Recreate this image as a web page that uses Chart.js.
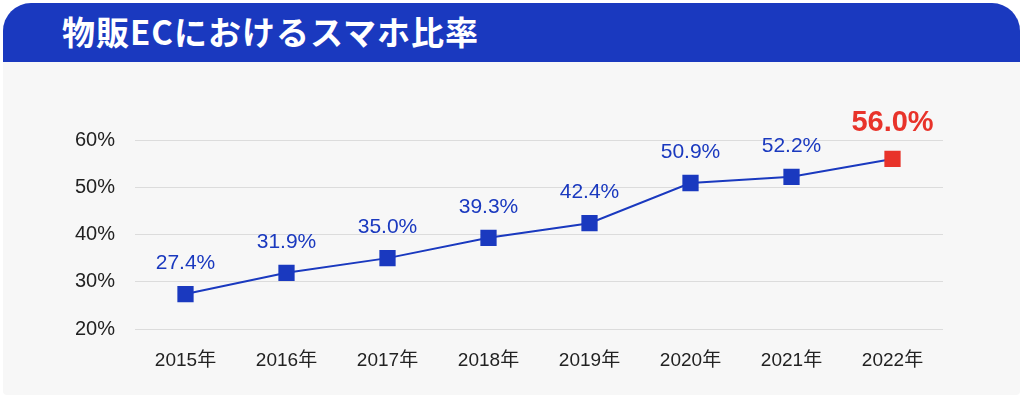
<!DOCTYPE html>
<html lang="ja">
<head>
<meta charset="utf-8">
<script src="https://cdn.jsdelivr.net/npm/chart.js@4.4.1/dist/chart.umd.min.js"></script>
<style>
  html, body { margin: 0; padding: 0; background: #fff; width: 1024px; height: 399px; overflow: hidden; }
  .card { position: absolute; left: 3px; top: 3px; width: 1017px; height: 392px; background: #f7f7f7; border-radius: 28px 28px 4px 4px; overflow: hidden; }
  .head { height: 59px; background: #1a39bf; color: #fff; font-family: "Noto Sans CJK JP", sans-serif; font-weight: 700; font-size: 33px; line-height: 56px; padding-left: 59px; letter-spacing: 1px; }
  .body { position: relative; width: 1017px; height: 333px; }
</style>
</head>
<body>
<div class="card">
  <div class="head">物販ECにおけるスマホ比率</div>
  <div class="body"><canvas id="chart"></canvas></div>
</div>
<script>
// データ
const years = ["2015年", "2016年", "2017年", "2018年", "2019年", "2020年", "2021年", "2022年"]
const shares = [27.4, 31.9, 35.0, 39.3, 42.4, 50.9, 52.2, 56.0]
const yTicks = [20, 30, 40, 50, 60]

const BLUE = "#1a39bf"
const RED = "#e8332a"
const FONT = '"Liberation Sans", "Noto Sans CJK JP", sans-serif'

const lastIdx = shares.length - 1
const pointColors = shares.map((v, i) => (i === lastIdx ? RED : BLUE))

// ラベル描画用のプラグイン
const valueLabels = {
  id: "valueLabels",
  afterDatasetsDraw(chart) {
    const ctx = chart.ctx
    const meta = chart.getDatasetMeta(0)
    ctx.save()
    ctx.textAlign = "center"
    ctx.textBaseline = "middle"
    meta.data.forEach((pt, i) => {
      const txt = shares[i].toFixed(1) + "%"
      if (i === lastIdx) {
        ctx.fillStyle = RED
        ctx.font = "bold 29px " + FONT
        ctx.fillText(txt, pt.x, pt.y - 36)
      } else {
        ctx.fillStyle = BLUE
        ctx.font = "21px " + FONT
        ctx.fillText(txt, pt.x, pt.y - 31)
      }
    })
    ctx.restore()
  },
}

const ctx = document.getElementById("chart").getContext("2d")
new Chart(ctx, {
  type: "line",
  data: {
    labels: years,
    datasets: [
      {
        data: shares,
        borderColor: BLUE,
        borderWidth: 2,
        pointStyle: "rect",
        pointRadius: 11.5,
        pointHoverRadius: 11.5,
        pointBorderWidth: 0,
        pointBackgroundColor: pointColors,
        pointBorderColor: pointColors,
        tension: 0,
      },
    ],
  },
  options: {
    responsive: true,
    maintainAspectRatio: false,
    animation: false,
    layout: { padding: { top: 78, right: 77, bottom: 0, left: 0 } },
    plugins: {
      legend: { display: false },
      tooltip: { enabled: false },
    },
    scales: {
      x: {
        offset: true,
        grid: { display: false },
        border: { display: false },
        ticks: { color: "#222", font: { family: FONT, size: 19 }, padding: 12 },
        afterFit: (scale) => { scale.height = 66 },
      },
      y: {
        min: 20,
        max: 60,
        afterBuildTicks: (scale) => { scale.ticks = yTicks.map((v) => ({ value: v })) },
        grid: { color: "#dcdcdc", drawTicks: false },
        border: { display: false },
        ticks: {
          color: "#222",
          font: { family: FONT, size: 20 },
          padding: 20,
          callback: (v) => v + "%",
        },
        afterFit: (scale) => { scale.width = 132 },
      },
    },
  },
  plugins: [valueLabels],
})
</script>
</body>
</html>
